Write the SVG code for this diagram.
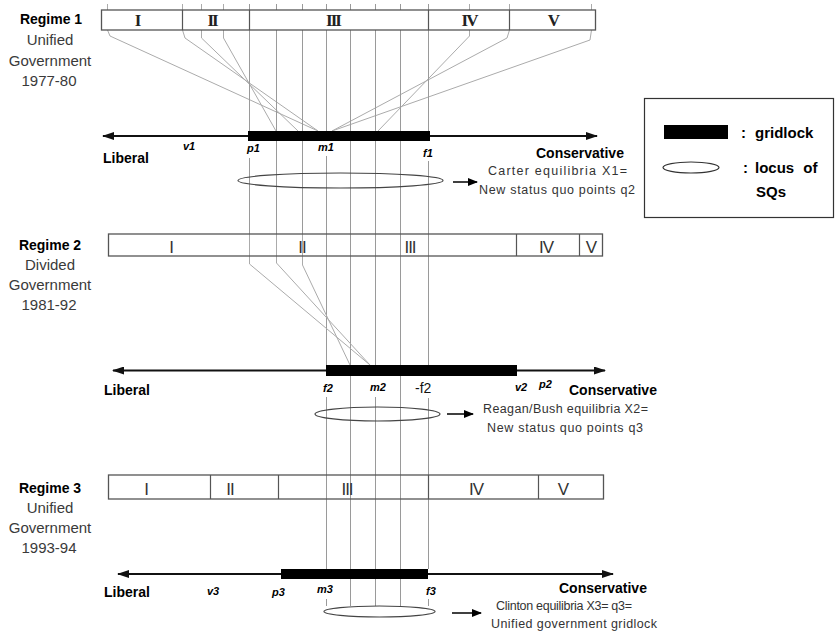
<svg xmlns="http://www.w3.org/2000/svg" width="837" height="632" viewBox="0 0 837 632">
<style>
.bg{fill:#fff}
.v{stroke:#9a9a9a;stroke-width:1;fill:none}
.s{stroke:#ababab;stroke-width:1;fill:none}
.box{fill:#fff;stroke:#555;stroke-width:1.3}
.boxo{fill:none;stroke:#555;stroke-width:1.3}
.div{stroke:#555;stroke-width:1.2}
.axis{stroke:#111;stroke-width:2;fill:none}
.bar{fill:#000}
.ell{fill:none;stroke:#444;stroke-width:1.2}
.reg{font-family:"Liberation Sans",Arial,sans-serif;font-weight:bold;font-size:14px;fill:#000;text-anchor:middle}
.sub{font-family:"Liberation Sans",Arial,sans-serif;font-size:15px;fill:#3a3a3a;text-anchor:middle}
.side{font-family:"Liberation Sans",Arial,sans-serif;font-weight:bold;font-size:14px;fill:#000}
.pt{font-family:"Liberation Sans",Arial,sans-serif;font-weight:bold;font-style:italic;font-size:11px;fill:#000}
.rn1{font-family:"Liberation Serif","Times New Roman",serif;font-weight:bold;font-size:17px;fill:#222;text-anchor:middle;letter-spacing:-2px}
.rn{font-family:"Liberation Sans",Arial,sans-serif;font-size:17px;fill:#333;text-anchor:middle;letter-spacing:-1px}
.desc{font-family:"Liberation Sans",Arial,sans-serif;font-size:12.5px;fill:#333}
.leg{font-family:"Liberation Sans",Arial,sans-serif;font-weight:bold;font-size:15px;fill:#000}
</style>
<defs>
<marker id="ah" viewBox="0 0 12 8" refX="11" refY="4" markerWidth="12" markerHeight="8" markerUnits="userSpaceOnUse" orient="auto-start-reverse"><path d="M0,0 L12,4 L0,8 z" fill="#111"/></marker>
<marker id="sa" viewBox="0 0 10 8" refX="9" refY="4" markerWidth="10" markerHeight="8" markerUnits="userSpaceOnUse" orient="auto"><path d="M0,0 L10,4 L0,8 z" fill="#000"/></marker>
</defs>
<rect class="bg" x="0" y="0" width="837" height="632"/>

<g id="connectors">
  <polyline class="s" points="107.5,4 107.5,30 110,36 318,131"/>
  <polyline class="s" points="182.5,4 182.5,30 185,38 318,131"/>
  <polyline class="s" points="201.5,4 201.5,30 201.5,38 298,131"/>
  <polyline class="s" points="223.5,4 223.5,30 223.5,38 276,131"/>
  <polyline class="s" points="469.5,4 469.5,30 469.5,36 378,131"/>
  <polyline class="s" points="509.5,4 509.5,30 507,38 332,131"/>
  <polyline class="s" points="591.5,4 591.5,30 590,40 332,131"/>
  <path class="v" d="M249.5,4V131M276.5,4V131M302.5,4V131M326.5,4V131M350.5,4V131M375.5,4V131M400.5,4V131M428.5,4V131"/>
  <path class="v" d="M249.5,158V234M276.5,141V234M302.5,141V234M326.5,156V365M350.5,141V365M375.5,141V365M400.5,141V365M428.5,161V365"/>
  <polyline class="s" points="249.5,234 249.5,264 370,365"/>
  <polyline class="s" points="276.5,234 276.5,263 370,365"/>
  <polyline class="s" points="302.5,234 302.5,265 350,365"/>
  <path class="v" d="M326.5,397V569M350.5,376V569M375.5,397V569M400.5,376V569M428.5,398V569"/>
  <path class="v" d="M326.5,599V606M350.5,579V606M375.5,579V606M400.5,579V606M428.5,599V606"/>
</g>

<g id="regime1">
  <text class="reg" x="51" y="24">Regime 1</text>
  <text class="sub" x="50" y="45">Unified</text>
  <text class="sub" x="50" y="66">Government</text>
  <text class="sub" x="49" y="86">1977-80</text>
  <rect class="box" x="101.5" y="10" width="494" height="20"/>
  <path class="div" d="M182.5,10V30M249.5,10V30M428.5,10V30M509.5,10V30"/>
  <text class="rn1" x="137" y="26">I</text>
  <text class="rn1" x="212" y="26">II</text>
  <text class="rn1" x="333" y="26">III</text>
  <text class="rn1" x="469" y="26">IV</text>
  <text class="rn1" x="553" y="26">V</text>
  <line class="axis" x1="103" y1="136" x2="597" y2="136" marker-start="url(#ah)" marker-end="url(#ah)"/>
  <rect class="bar" x="248" y="131" width="182" height="10"/>
  <text class="side" x="103" y="163">Liberal</text>
  <text class="side" x="536" y="158">Conservative</text>
  <text class="pt" x="183" y="150">v1</text>
  <text class="pt" x="247" y="152">p1</text>
  <text class="pt" x="318" y="151">m1</text>
  <text class="pt" x="423" y="157">f1</text>
  <ellipse class="ell" cx="340.5" cy="180.5" rx="102.5" ry="7.5"/>
  <line x1="453" y1="182" x2="477" y2="182" stroke="#000" stroke-width="1.5" marker-end="url(#sa)"/>
  <text class="desc" x="488" y="175" textLength="139" lengthAdjust="spacing">Carter equilibria X1=</text>
  <text class="desc" x="479" y="194" textLength="156" lengthAdjust="spacing">New status quo points q2</text>
</g>

<g id="legend">
  <rect x="644.5" y="98.5" width="189" height="119" fill="#fff" stroke="#333" stroke-width="1.2"/>
  <rect x="664" y="125" width="64" height="14" fill="#000"/>
  <text class="leg" x="741" y="138">:</text>
  <text class="leg" x="755" y="138">gridlock</text>
  <ellipse cx="691" cy="167.5" rx="28" ry="5.5" fill="none" stroke="#333" stroke-width="1.2"/>
  <text class="leg" x="743" y="173">:</text>
  <text class="leg" x="755" y="173" word-spacing="5">locus of</text>
  <text class="leg" x="756" y="197">SQs</text>
</g>

<g id="regime2">
  <text class="reg" x="50" y="250">Regime 2</text>
  <text class="sub" x="50" y="270">Divided</text>
  <text class="sub" x="50" y="290">Government</text>
  <text class="sub" x="49" y="310">1981-92</text>
  <rect class="boxo" x="108.5" y="234" width="494" height="22"/>
  <path class="div" d="M516.5,234V256M579.5,234V256"/>
  <text class="rn" x="171" y="253">I</text>
  <text class="rn" x="302" y="253">II</text>
  <text class="rn" x="410" y="253">III</text>
  <text class="rn" x="546" y="253">IV</text>
  <text class="rn" x="591" y="253">V</text>
  <line class="axis" x1="113" y1="370.5" x2="605" y2="370.5" marker-start="url(#ah)" marker-end="url(#ah)"/>
  <rect class="bar" x="326" y="365" width="191" height="11"/>
  <text class="side" x="104" y="395">Liberal</text>
  <text class="side" x="569" y="395">Conservative</text>
  <text class="pt" x="323" y="392">f2</text>
  <text class="pt" x="370" y="391">m2</text>
  <text x="415" y="393" font-family="'Liberation Sans',Arial,sans-serif" font-size="14px" fill="#111">-f2</text>
  <text class="pt" x="515" y="391">v2</text>
  <text class="pt" x="539" y="388">p2</text>
  <ellipse class="ell" cx="377.5" cy="414" rx="62.5" ry="7"/>
  <line x1="447" y1="414" x2="473" y2="414" stroke="#000" stroke-width="1.5" marker-end="url(#sa)"/>
  <text class="desc" x="483" y="413" textLength="165" lengthAdjust="spacing">Reagan/Bush equilibria X2=</text>
  <text class="desc" x="487" y="432" textLength="156" lengthAdjust="spacing">New status quo points q3</text>
</g>

<g id="regime3">
  <text class="reg" x="50" y="493">Regime 3</text>
  <text class="sub" x="50" y="513">Unified</text>
  <text class="sub" x="50" y="533">Government</text>
  <text class="sub" x="49" y="553">1993-94</text>
  <rect class="boxo" x="108.5" y="475" width="495" height="24"/>
  <path class="div" d="M210.5,475V499M278.5,475V499M428.5,475V499M538.5,475V499"/>
  <text class="rn" x="146" y="495">I</text>
  <text class="rn" x="230" y="495">II</text>
  <text class="rn" x="347" y="495">III</text>
  <text class="rn" x="476" y="495">IV</text>
  <text class="rn" x="563" y="495">V</text>
  <line class="axis" x1="118" y1="574" x2="613" y2="574" marker-start="url(#ah)" marker-end="url(#ah)"/>
  <rect class="bar" x="281" y="569" width="147" height="10"/>
  <text class="side" x="104" y="597">Liberal</text>
  <text class="side" x="559" y="593">Conservative</text>
  <text class="pt" x="207" y="595">v3</text>
  <text class="pt" x="272" y="596">p3</text>
  <text class="pt" x="317" y="593">m3</text>
  <text class="pt" x="426" y="595">f3</text>
  <ellipse cx="379.5" cy="611.5" rx="55.5" ry="5.5" fill="#fff" stroke="#444" stroke-width="1.2"/>
  <line x1="452" y1="613" x2="481" y2="613" stroke="#000" stroke-width="1.5" marker-end="url(#sa)"/>
  <text class="desc" x="496" y="610" textLength="136" lengthAdjust="spacing">Clinton equilibria X3= q3=</text>
  <text class="desc" x="491" y="628" textLength="166" lengthAdjust="spacing">Unified government gridlock</text>
</g>
</svg>
